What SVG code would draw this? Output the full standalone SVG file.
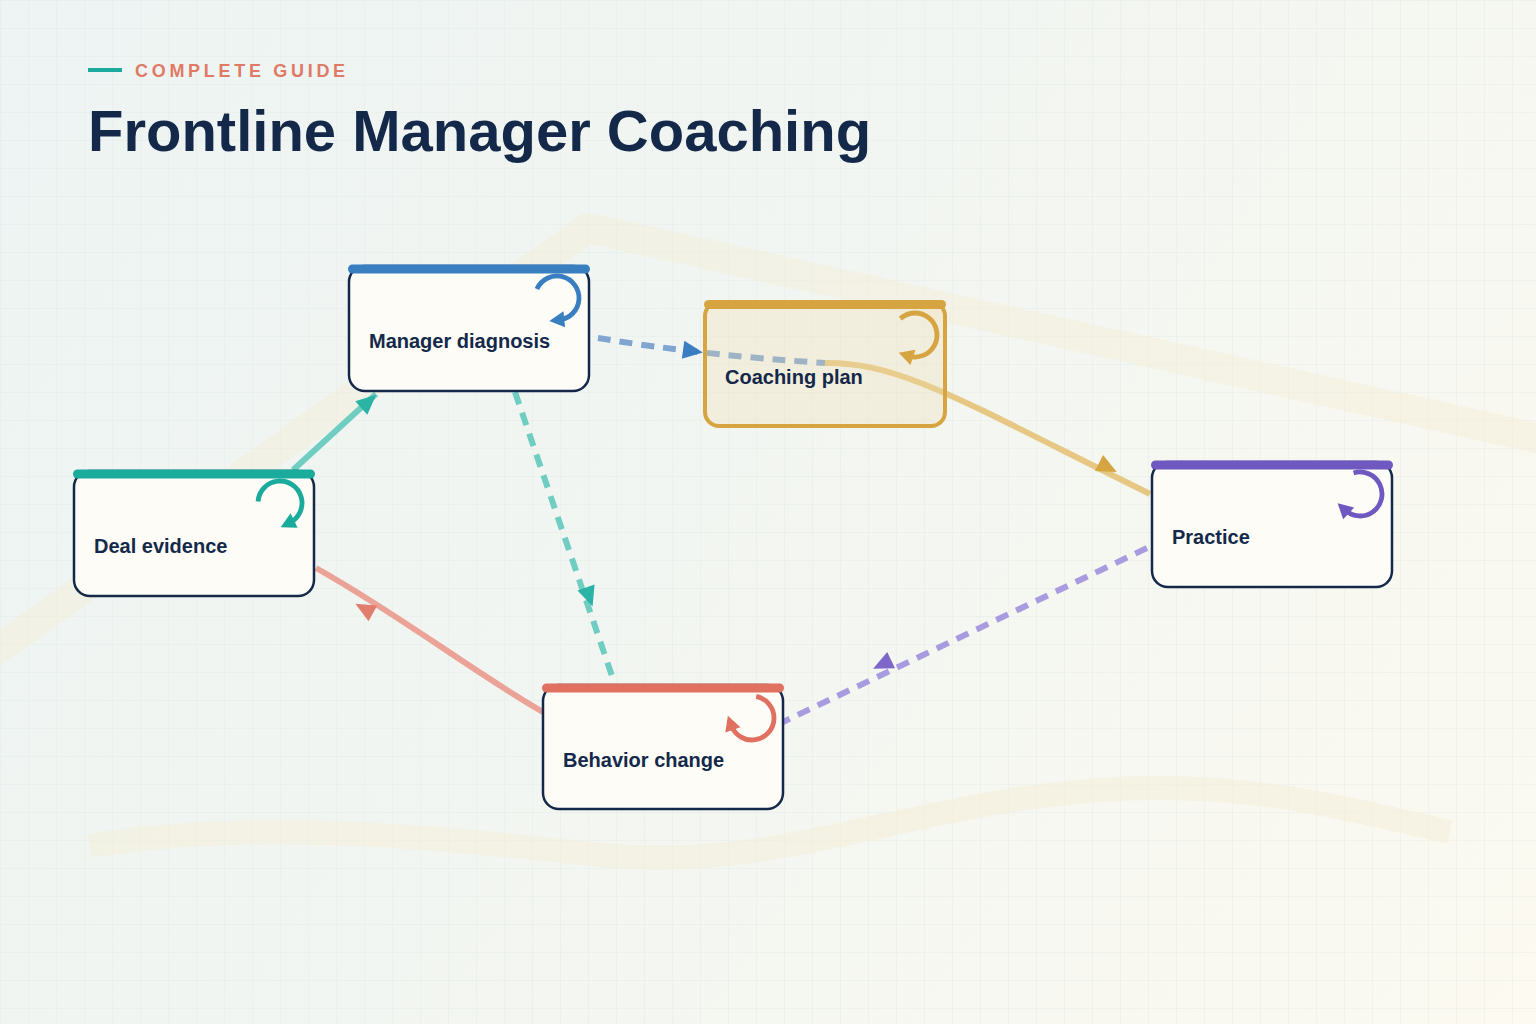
<svg xmlns="http://www.w3.org/2000/svg" xmlns:xlink="http://www.w3.org/1999/xlink" width="1536" height="1024" viewBox="0 0 1536 1024">
  <defs>
    <linearGradient id="bg" x1="0" y1="0" x2="1536" y2="1024" gradientUnits="userSpaceOnUse">
      <stop offset="0" stop-color="#edf4f3"/>
      <stop offset="0.55" stop-color="#f3f6f1"/>
      <stop offset="1" stop-color="#fcfaf1"/>
    </linearGradient>
    <pattern id="grid" width="28" height="28" patternUnits="userSpaceOnUse">
      <path d="M28 0 L0 0 0 28" fill="none" stroke="#dbe5e2" stroke-width="1" opacity="0.6"/>
    </pattern>
    <path id="ah" d="M11,0 L-9,-9 L-9,9 Z"/>
    <g id="loop">
      <path d="M-22,0 A22,22 0 1 1 11,19.05" fill="none" stroke-width="4.8" stroke-linecap="butt"/>
      <path d="M2.3,24.1 L19.3,23.5 L11.3,9.6 Z" stroke="none"/>
    </g>
  </defs>
  <style>
    .box { fill: #fdfcf7; stroke: #14294a; stroke-width: 2.5; }
    .lbl { font-family: "Liberation Sans", Arial, sans-serif; font-weight: 700; font-size: 20px; fill: #14294a; }
    .line { fill: none; stroke-width: 6; }
    .dash { stroke-dasharray: 13 9; }
  </style>

  <!-- background -->
  <rect width="1536" height="1024" fill="url(#bg)"/>
  <rect width="1536" height="1024" fill="url(#grid)"/>
  <path d="M-10,655 L588,228 L1546,440" fill="none" stroke="#f3eed8" stroke-width="30" opacity="0.45" stroke-linejoin="round"/>
  <path d="M90,846 C 250,820 420,835 600,855 C 780,872 900,805 1100,790 C 1250,780 1350,810 1450,832" fill="none" stroke="#f4efd8" stroke-width="24" opacity="0.55"/>

  <!-- header -->
  <g id="header">
    <line x1="88" y1="70" x2="122" y2="70" stroke="#1aab9c" stroke-width="4"/>
    <text x="135" y="77" font-family="Liberation Sans, Arial, sans-serif" font-weight="700" font-size="18" letter-spacing="3.7" fill="#e07a66">COMPLETE GUIDE</text>
    <text x="88" y="151" font-family="Liberation Sans, Arial, sans-serif" font-weight="700" font-size="58" fill="#14294a">Frontline Manager Coaching</text>
  </g>

  <!-- connectors -->
  <g id="connectors">
    <path class="line" d="M293,470 L376,394" stroke="#6fcdc2"/>
    <use href="#ah" transform="translate(368,402) rotate(-42)" fill="#2bb3a5"/>

    <path class="line" d="M543,712 C 470,670 400,615 316,568" stroke="#eba397"/>
    <use href="#ah" transform="translate(365,609) rotate(-151)" fill="#e27d6d"/>

    <path class="line dash" d="M515,392 L612,676" stroke="#6fcdc2"/>
    <use href="#ah" transform="translate(589,596) rotate(71)" fill="#2bb3a5"/>

    <path class="line dash" d="M598,338 Q 700,355 825,363" stroke="#7fa5d0"/>
    <use href="#ah" transform="translate(692,351) rotate(8)" fill="#3a7ec2"/>

    <path class="line" d="M825,363 C 900,362 960,400 1150,494" stroke="#e6c884"/>
    <use href="#ah" transform="translate(1107,467) rotate(27)" fill="#d6a440"/>

    <path class="line dash" d="M1147,548 L783,722" stroke="#a99be0"/>
    <use href="#ah" transform="translate(883,664) rotate(154.5)" fill="#7d68c9"/>
  </g>

  <!-- nodes -->
  <g id="node-manager-diagnosis">
    <rect class="box" x="349" y="266" width="240" height="125" rx="16"/>
    <rect x="348" y="264.5" width="242" height="9" rx="4.5" fill="#3a7ec2"/>
    <use href="#loop" transform="translate(557,298) rotate(24)" stroke="#3a7ec2" fill="#3a7ec2"/>
    <text class="lbl" x="369" y="348">Manager diagnosis</text>
  </g>

  <g id="node-coaching-plan">
    <rect x="705" y="302" width="240" height="124" rx="14" fill="#efdca8" fill-opacity="0.28" stroke="#d6a440" stroke-width="4"/>
    <rect x="704" y="300" width="242" height="9" rx="4.5" fill="#d6a440"/>
    <use href="#loop" transform="translate(915,335) rotate(48)" stroke="#d6a440" fill="#d6a440"/>
    <text class="lbl" x="725" y="384">Coaching plan</text>
  </g>

  <g id="node-deal-evidence">
    <rect class="box" x="74" y="471" width="240" height="125" rx="16"/>
    <rect x="73" y="469.5" width="242" height="9" rx="4.5" fill="#1aab9c"/>
    <use href="#loop" transform="translate(280,503) rotate(4)" stroke="#1aab9c" fill="#1aab9c"/>
    <text class="lbl" x="94" y="553">Deal evidence</text>
  </g>

  <g id="node-practice">
    <rect class="box" x="1152" y="462" width="240" height="125" rx="16"/>
    <rect x="1151" y="460.5" width="242" height="9" rx="4.5" fill="#6f58c0"/>
    <use href="#loop" transform="translate(1360,494) rotate(73)" stroke="#6f58c0" fill="#6f58c0"/>
    <text class="lbl" x="1172" y="544">Practice</text>
  </g>

  <g id="node-behavior-change">
    <rect class="box" x="543" y="685" width="240" height="124" rx="16"/>
    <rect x="542" y="683.5" width="242" height="9" rx="4.5" fill="#e07060"/>
    <use href="#loop" transform="translate(752,718) rotate(101)" stroke="#e07060" fill="#e07060"/>
    <text class="lbl" x="563" y="767">Behavior change</text>
  </g>
</svg>
